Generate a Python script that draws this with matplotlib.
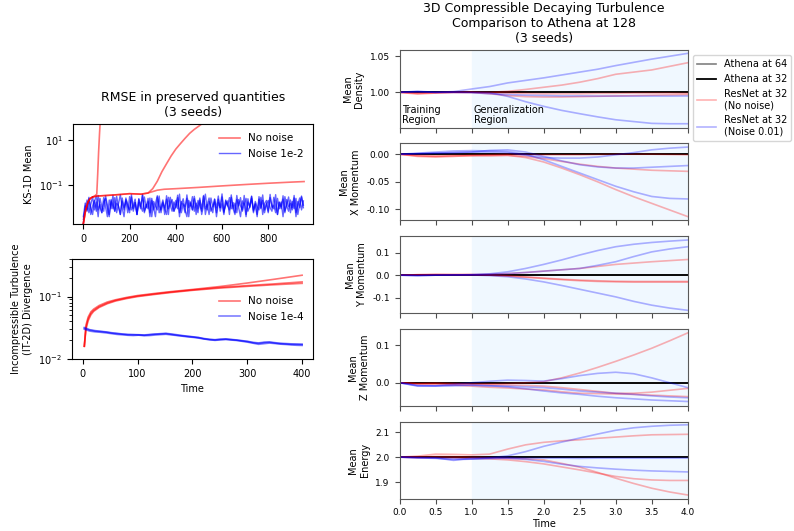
import numpy as np
import matplotlib
matplotlib.use("Agg")
import matplotlib.pyplot as plt
import matplotlib.transforms as mtransforms

plt.rcParams["font.family"] = ["DejaVu Sans"]

# ---------------- LEFT: RMSE in preserved quantities ----------------
# KS-1D mean, blue noisy seeds (values in units of 1e-3, one value every 8 steps)
ks_blue_1 = [3, 9, 22, 6, 14, 31, 8, 18, 4, 26, 11, 7, 34, 13, 5, 20, 9, 28, 6, 15,
             38, 10, 4, 23, 12, 8, 30, 7, 17, 5, 25, 11, 36, 6, 14, 9, 27, 4, 19, 12,
             8, 33, 6, 16, 10, 24, 5, 29, 13, 7, 21, 9, 40, 6, 15, 11, 26, 4, 18, 8,
             32, 12, 6, 22, 9, 35, 5, 14, 27, 7, 11, 24, 4, 17, 10, 30, 6, 20, 13, 8,
             37, 9, 5, 23, 12, 28, 7, 16, 4, 25, 10, 33, 6, 19, 11, 8, 29, 5, 15, 21,
             7, 39, 10, 13, 6, 26, 9, 18, 4, 31, 12, 7, 22, 10, 35, 6, 14, 27, 8, 20]
ks_blue_2 = [2, 12, 7, 25, 10, 5, 19, 33, 8, 14, 6, 28, 11, 4, 22, 9, 36, 7, 16, 12,
             5, 27, 10, 20, 6, 31, 8, 13, 24, 5, 17, 9, 39, 7, 11, 26, 6, 21, 10, 4,
             30, 12, 8, 18, 5, 34, 9, 15, 23, 7, 11, 28, 4, 19, 13, 6, 37, 10, 16, 8,
             25, 5, 21, 12, 7, 32, 9, 14, 5, 27, 11, 18, 6, 24, 10, 41, 7, 13, 20, 5,
             29, 9, 16, 6, 23, 12, 8, 35, 5, 18, 11, 26, 7, 14, 4, 31, 10, 21, 8, 15,
             6, 28, 12, 9, 38, 5, 17, 11, 24, 7, 13, 30, 6, 19, 9, 26, 5, 15, 33, 10]
ks_blue_3 = [4, 16, 8, 29, 5, 12, 21, 7, 35, 10, 6, 18, 26, 9, 4, 23, 13, 7, 32, 11,
             5, 20, 8, 27, 14, 6, 38, 9, 17, 5, 24, 12, 7, 30, 10, 19, 4, 26, 8, 15,
             34, 6, 11, 22, 9, 5, 29, 13, 7, 18, 10, 36, 6, 14, 25, 8, 4, 21, 12, 31,
             7, 16, 9, 27, 5, 13, 40, 8, 19, 11, 6, 24, 10, 33, 7, 15, 5, 22, 12, 28,
             9, 17, 6, 35, 10, 4, 20, 13, 26, 7, 11, 31, 8, 16, 5, 24, 9, 37, 6, 14,
             21, 10, 7, 29, 12, 5, 18, 9, 34, 6, 23, 11, 15, 8, 27, 4, 19, 10, 30, 13]

ks_red_1_x = [0, 10, 20, 30, 40, 50, 58, 62, 66, 70, 74]
ks_red_1_y = [0.002, 0.008, 0.018, 0.026, 0.03, 0.034, 0.04, 0.3, 3, 20, 100]
ks_red_2_x = [0, 10, 20, 30, 40, 60, 100, 150, 200, 250, 280, 300, 320, 340, 360, 380,
              400, 420, 440, 460, 480, 500, 520]
ks_red_2_y = [0.002, 0.008, 0.018, 0.026, 0.03, 0.033, 0.035, 0.038, 0.042, 0.04, 0.045,
              0.07, 0.15, 0.4, 0.9, 2, 4, 7, 12, 20, 30, 42, 60]
ks_red_3_x = [0, 10, 20, 30, 40, 60, 100, 150, 200, 250, 280, 320, 350, 400, 500, 600,
              700, 800, 900, 955]
ks_red_3_y = [0.002, 0.008, 0.018, 0.026, 0.03, 0.033, 0.035, 0.038, 0.042, 0.04, 0.045,
              0.06, 0.066, 0.07, 0.08, 0.093, 0.107, 0.122, 0.137, 0.145]

# IT-2D divergence
it_red_x = [3, 6, 10, 15, 20, 30, 45, 60, 80, 100, 130, 160, 200, 250, 300, 350, 400]
it_red_1 = [0.016, 0.035, 0.047, 0.057, 0.063, 0.072, 0.082, 0.089, 0.097, 0.104, 0.112,
            0.12, 0.13, 0.145, 0.165, 0.19, 0.22]
it_red_2 = [0.016, 0.032, 0.044, 0.054, 0.06, 0.069, 0.079, 0.087, 0.095, 0.102, 0.11,
            0.118, 0.128, 0.14, 0.15, 0.16, 0.172]
it_red_3 = [0.016, 0.03, 0.041, 0.051, 0.058, 0.067, 0.077, 0.085, 0.093, 0.1, 0.108,
            0.116, 0.126, 0.137, 0.146, 0.155, 0.163]
it_blue_1 = [0.031, 0.029, 0.028, 0.0275, 0.027, 0.026, 0.0255, 0.025, 0.0245, 0.0245,
             0.0243, 0.024, 0.0245, 0.025, 0.0252, 0.0255, 0.0248, 0.024, 0.0235, 0.023,
             0.0225, 0.022, 0.021, 0.0205, 0.0202, 0.0206, 0.0208, 0.0204, 0.02, 0.0195,
             0.019, 0.0182, 0.0178, 0.0183, 0.0185, 0.018, 0.0176, 0.0174, 0.0172, 0.0171, 0.017]
it_blue_2 = [0.030, 0.028, 0.0272, 0.0268, 0.0262, 0.0255, 0.0248, 0.0244, 0.024, 0.0238,
             0.0241, 0.0236, 0.0238, 0.0242, 0.0246, 0.0249, 0.0243, 0.0238, 0.0232, 0.0226,
             0.0222, 0.0216, 0.0209, 0.0203, 0.0199, 0.0202, 0.0205, 0.0201, 0.0198, 0.0192,
             0.0186, 0.0179, 0.0172, 0.0176, 0.018, 0.0177, 0.0173, 0.0171, 0.0168, 0.0166, 0.0165]
it_blue_3 = [0.032, 0.0295, 0.0285, 0.0278, 0.0272, 0.0264, 0.0258, 0.0252, 0.0248, 0.0246,
             0.0245, 0.0243, 0.0247, 0.0251, 0.0255, 0.0258, 0.0252, 0.0245, 0.0238, 0.0232,
             0.0227, 0.0221, 0.0213, 0.0207, 0.0204, 0.0208, 0.021, 0.0206, 0.0202, 0.0197,
             0.0192, 0.0185, 0.0181, 0.0186, 0.0188, 0.0183, 0.0179, 0.0177, 0.0175, 0.0174, 0.0173]

# ---------------- RIGHT: 3D compressible decaying turbulence ----------------
t = [0.0, 0.25, 0.5, 0.75, 1.0, 1.25, 1.5, 1.75, 2.0, 2.25, 2.5, 2.75, 3.0, 3.25, 3.5, 3.75, 4.0]

dens_athena = [1.0] * 17
dens_red = [
    [1.0, 0.9975, 0.999, 1.0, 1.0, 1.0, 1.0014, 1.004, 1.007, 1.010, 1.014, 1.019, 1.025, 1.028, 1.031, 1.036, 1.041],
    [1.0, 0.999, 0.9995, 1.0, 1.0, 0.998, 0.9955, 0.994, 0.9935, 0.9935, 0.994, 0.9945, 0.995, 0.9955, 0.996, 0.9965, 0.997],
    [1.0, 0.9985, 0.9995, 1.0, 1.0, 0.9995, 0.999, 0.9985, 0.998, 0.998, 0.998, 0.9985, 0.9985, 0.999, 0.999, 0.999, 0.9985],
]
dens_blue = [
    [1.0, 1.001, 1.0, 1.001, 1.0046, 1.008, 1.013, 1.0165, 1.020, 1.024, 1.028, 1.032, 1.037, 1.0415, 1.046, 1.050, 1.054],
    [1.0, 1.0015, 1.0, 1.0, 1.0, 0.9995, 0.9944, 0.987, 0.9806, 0.975, 0.9704, 0.966, 0.962, 0.9595, 0.957, 0.9565, 0.9565],
    [1.0, 1.0005, 1.0, 1.0, 0.9995, 0.998, 0.997, 0.996, 0.9955, 0.995, 0.995, 0.9948, 0.9948, 0.9948, 0.9948, 0.9948, 0.995],
]

xmom_athena = [0.0] * 17
xmom_red = [
    [0, -0.003, -0.004, -0.003, -0.003, -0.003, -0.002, -0.006, -0.014, -0.025, -0.037, -0.050, -0.064, -0.077, -0.089, -0.101, -0.113],
    [0, -0.002, -0.003, -0.002, -0.002, -0.002, -0.002, -0.004, -0.008, -0.013, -0.018, -0.022, -0.025, -0.027, -0.029, -0.030, -0.031],
    [0, -0.004, -0.005, -0.004, -0.002, -0.001, 0.0, -0.0005, -0.001, -0.001, -0.001, -0.0005, 0.0, 0.0, 0.0, -0.0005, -0.001],
]
xmom_blue = [
    [0, 0.002, 0.004, 0.006, 0.0066, 0.006, 0.005, 0.0, -0.010, -0.022, -0.034, -0.046, -0.058, -0.068, -0.0765, -0.080, -0.081],
    [0, 0.001, 0.002, 0.003, 0.004, 0.007, 0.008, 0.004, -0.004, -0.012, -0.019, -0.023, -0.025, -0.025, -0.0235, -0.022, -0.0205],
    [0, 0.001, 0.002, 0.003, 0.004, 0.004, 0.003, -0.002, -0.006, -0.007, -0.007, -0.005, -0.001, 0.003, 0.008, 0.011, 0.013],
]

ymom_athena = [0.0] * 17
ymom_red = [
    [0, 0.002, 0.003, 0.003, 0.003, 0.004, 0.007, 0.012, 0.018, 0.024, 0.030, 0.039, 0.048, 0.054, 0.060, 0.065, 0.070],
    [0, 0.002, 0.003, 0.002, 0.002, 0.0, -0.004, -0.009, -0.015, -0.020, -0.025, -0.028, -0.030, -0.031, -0.031, -0.031, -0.031],
    [0, 0.001, 0.002, 0.002, 0.002, 0.0, -0.003, -0.008, -0.013, -0.018, -0.022, -0.025, -0.027, -0.028, -0.028, -0.028, -0.028],
]
ymom_blue = [
    [0, -0.002, 0.0, 0.001, 0.002, 0.006, 0.015, 0.030, 0.048, 0.068, 0.090, 0.110, 0.127, 0.138, 0.146, 0.152, 0.157],
    [0, -0.001, 0.0, 0.001, 0.002, 0.004, 0.007, 0.012, 0.018, 0.024, 0.030, 0.044, 0.060, 0.083, 0.104, 0.117, 0.127],
    [0, -0.002, 0.0, 0.001, 0.001, -0.002, -0.007, -0.017, -0.030, -0.046, -0.063, -0.080, -0.097, -0.117, -0.134, -0.147, -0.157],
]

zmom_athena = [0.0] * 17
zmom_red = [
    [0, -0.003, -0.002, -0.003, -0.003, -0.003, -0.002, 0.0, 0.003, 0.013, 0.026, 0.041, 0.057, 0.074, 0.092, 0.112, 0.133],
    [0, -0.002, -0.001, -0.002, -0.004, -0.005, -0.006, -0.007, -0.009, -0.013, -0.018, -0.023, -0.028, -0.028, -0.025, -0.020, -0.015],
    [0, -0.003, -0.004, -0.006, -0.009, -0.012, -0.014, -0.017, -0.019, -0.024, -0.028, -0.029, -0.030, -0.031, -0.033, -0.035, -0.037],
]
zmom_blue = [
    [0, -0.009, -0.008, -0.004, 0.0, 0.004, 0.007, 0.006, 0.0044, 0.011, 0.019, 0.025, 0.028, 0.024, 0.013, 0.0, -0.013],
    [0, -0.008, -0.009, -0.008, -0.007, -0.008, -0.009, -0.011, -0.013, -0.017, -0.022, -0.025, -0.028, -0.031, -0.035, -0.038, -0.040],
    [0, -0.007, -0.008, -0.007, -0.006, -0.008, -0.011, -0.016, -0.022, -0.027, -0.031, -0.036, -0.040, -0.043, -0.046, -0.048, -0.050],
]

energy_athena = [2.0] * 17
energy_red = [
    [2.0, 2.004, 2.012, 2.011, 2.009, 2.012, 2.032, 2.049, 2.059, 2.065, 2.069, 2.075, 2.080, 2.085, 2.089, 2.090, 2.091],
    [2.0, 1.997, 1.998, 1.997, 1.995, 1.993, 1.989, 1.982, 1.973, 1.961, 1.949, 1.936, 1.923, 1.914, 1.909, 1.907, 1.907],
    [2.0, 2.0, 2.003, 2.002, 2.0, 1.998, 1.995, 1.993, 1.989, 1.975, 1.96, 1.939, 1.916, 1.895, 1.876, 1.861, 1.849],
]
energy_blue = [
    [2.0, 1.997, 1.995, 1.99, 1.992, 1.997, 2.005, 2.022, 2.043, 2.060, 2.076, 2.092, 2.107, 2.117, 2.123, 2.127, 2.129],
    [2.0, 1.998, 1.996, 1.994, 1.992, 1.994, 1.996, 1.991, 1.983, 1.972, 1.963, 1.957, 1.952, 1.948, 1.945, 1.943, 1.941],
    [2.0, 1.998, 1.997, 1.987, 1.996, 1.997, 1.997, 1.996, 1.996, 1.996, 1.995, 1.996, 1.996, 1.996, 1.996, 1.996, 1.996],
]

fig = plt.figure(figsize=(7.94, 5.31), dpi=100)

# ---- KS-1D ----
ax = fig.add_axes([0.0916, 0.5782, 0.303, 0.1883])
for i, s in enumerate([ks_blue_1, ks_blue_2, ks_blue_3]):
    ax.plot(np.arange(len(s)) * 8, np.array(s) * 1e-3, color="blue", alpha=0.6, lw=1,
            label="Noise 1e-2" if i == 0 else None)
ax.plot(ks_red_1_x, ks_red_1_y, color="red", alpha=0.55, lw=1.2, label="No noise")
ax.plot(ks_red_2_x, ks_red_2_y, color="red", alpha=0.55, lw=1.2)
ax.plot(ks_red_3_x, ks_red_3_y, color="red", alpha=0.55, lw=1.2)
ax.set_yscale("log")
ax.set_ylim(1.9e-3, 52)
ax.set_yticks([1e-1, 1e1])
ax.yaxis.set_minor_locator(matplotlib.ticker.NullLocator())
ax.set_xlim(-46, 995)
ax.tick_params(labelsize=7)
ax.set_ylabel("KS-1D Mean", fontsize=7)
ax.set_title("RMSE in preserved quantities\n(3 seeds)", fontsize=9)
h, l = ax.get_legend_handles_labels()
ax.legend([h[1], h[0]], [l[1], l[0]], loc="upper right", frameon=False, fontsize=7.5)

# ---- IT-2D ----
ax = fig.add_axes([0.0903, 0.3239, 0.304, 0.1883])
for i, s in enumerate([it_red_1, it_red_2, it_red_3]):
    ax.plot(it_red_x, s, color="red", alpha=0.55, lw=1.2, label="No noise" if i == 0 else None)
for i, s in enumerate([it_blue_1, it_blue_2, it_blue_3]):
    ax.plot(np.linspace(3, 400, len(s)), s, color="blue", alpha=0.5, lw=1.2,
            label="Noise 1e-4" if i == 0 else None)
ax.set_yscale("log")
ax.set_ylim(0.01, 0.4)
ax.set_xlim(-20, 420)
ax.tick_params(labelsize=7)
ax.set_xlabel("Time", fontsize=7)
ax.set_ylabel("Incompressible Turbulence\n(IT-2D) Divergence", fontsize=7)
ax.legend(loc="center right", frameon=False, fontsize=7.5)

# ---- right column ----
panels = [
    ("Mean\nDensity", dens_athena, dens_red, dens_blue, (0.951, 1.058), [1.0, 1.05], "%.2f"),
    ("Mean\nX Momentum", xmom_athena, xmom_red, xmom_blue, (-0.12, 0.02), [-0.10, -0.05, 0.0], "%.2f"),
    ("Mean\nY Momentum", ymom_athena, ymom_red, ymom_blue, (-0.17, 0.175), [-0.1, 0.0, 0.1], "%.1f"),
    ("Mean\nZ Momentum", zmom_athena, zmom_red, zmom_blue, (-0.062, 0.144), [0.0, 0.1], "%.1f"),
    ("Mean\nEnergy", energy_athena, energy_red, energy_blue, (1.834, 2.142), [1.9, 2.0, 2.1], "%.1f"),
]
for k, (lab, ath, reds, blues, ylim, yt, fmt) in enumerate(panels):
    ax = fig.add_axes([0.5032, 0.7595 - k * 0.1747, 0.363, 0.1455])
    ax.axvspan(1.0, 4.0, color="aliceblue", zorder=0)
    ax.plot(t, ath, color="gray", lw=1.2, label="Athena at 64")
    ax.plot(t, ath, color="black", lw=1.3, label="Athena at 32")
    for i, s in enumerate(reds):
        ax.plot(t, s, color="red", alpha=0.3, lw=1.2, label="ResNet at 32\n(No noise)" if i == 0 else None)
    for i, s in enumerate(blues):
        ax.plot(t, s, color="blue", alpha=0.3, lw=1.2, label="ResNet at 32\n(Noise 0.01)" if i == 0 else None)
    ax.set_xlim(0, 4)
    ax.set_ylim(*ylim)
    ax.set_yticks(yt)
    ax.yaxis.set_major_formatter(matplotlib.ticker.FormatStrFormatter(fmt))
    ax.set_xticks([0, 0.5, 1.0, 1.5, 2.0, 2.5, 3.0, 3.5, 4.0])
    ax.tick_params(labelsize=6.5, color="0.3")
    for sp in ax.spines.values():
        sp.set_color("0.35")
    ax.set_ylabel(lab, fontsize=7)
    if k < 4:
        ax.set_xticklabels([])
    else:
        ax.set_xlabel("Time", fontsize=7, labelpad=1)
    if k == 0:
        ax.set_title("3D Compressible Decaying Turbulence\nComparison to Athena at 128\n(3 seeds)", fontsize=9)
        trans = mtransforms.blended_transform_factory(ax.transData, ax.transAxes)
        ax.text(0.03, 0.03, "Training\nRegion", transform=trans, fontsize=7, va="bottom", linespacing=1.0)
        ax.text(1.03, 0.03, "Generalization\nRegion", transform=trans, fontsize=7, va="bottom", linespacing=1.0)
        ax.legend(loc="upper left", bbox_to_anchor=(1.0, 1.0), fontsize=7)

plt.savefig("out.png", dpi=100)
